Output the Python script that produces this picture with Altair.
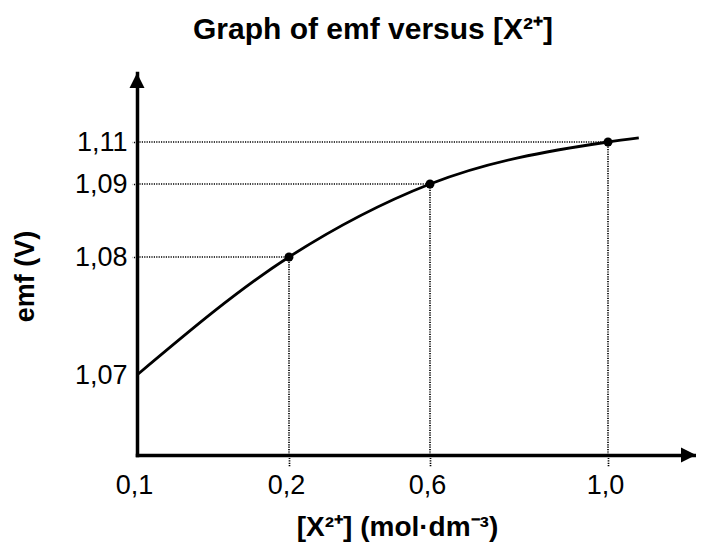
import altair as alt
import pandas as pd

# measured points
conc = [0.2, 0.6, 1.0]
emf = [1.08, 1.09, 1.11]

# curve through the points (starts on the emf axis, runs a little past 1,0)
curve_conc = [0.1, 0.2, 0.6, 1.0, 1.07]
curve_emf = [1.07, 1.08, 1.09, 1.11, 1.1106]

# tick labels
x_ticks = [0.1, 0.2, 0.6, 1.0]
y_ticks = [1.07, 1.08, 1.09, 1.11]

# schematic (non-uniform) axes: knots of the piecewise scales
x_knots = [0.1, 0.2, 0.6, 1.0, 1.2]
y_knots = [1.06, 1.07, 1.08, 1.09, 1.11, 1.12]

W, H = 559, 382
x_range = [0, 152, 293, 471, 559]
y_range = [382, 302, 184, 111, 69, 0]

FONT = "Liberation Sans"
DASH = [1.2, 1.2]
DOT_W = 1.7

xs = alt.Scale(domain=x_knots, range=x_range, zero=False, nice=False)
ys = alt.Scale(domain=y_knots, range=y_range, zero=False, nice=False)

pts = pd.DataFrame({"conc": conc, "emf": emf, "x0": [x_knots[0]] * 3, "y0": [y_knots[0]] * 3})
curve = pd.DataFrame({"conc": curve_conc, "emf": curve_emf})
arrows = pd.DataFrame({
    "conc": [x_knots[0], x_knots[-1]],
    "emf": [y_knots[-1], y_knots[0]],
    "shape": ["M0,0L-0.5,1L0.5,1Z", "M0,0L-1,-0.5L-1,0.5Z"],
})

x_axis = alt.Axis(
    values=x_ticks,
    labelExpr="replace(format(datum.value, '.1f'), '.', ',')",
    grid=False,
    domainColor="black", domainWidth=3.5, domainCap="square",
    tickSize=11, tickDash=DASH, tickWidth=DOT_W, tickColor="black",
    tickOpacity={"condition": {"test": "datum.value < 0.15", "value": 0}, "value": 1},
    labelFont=FONT, labelFontSize=27, labelPadding=6, labelColor="black", labelFlush=False,
    labelOverlap=False, labelBound=False, labelOffset=-3,
    title="[X²⁺] (mol·dm⁻³)", titleFont=FONT, titleFontSize=28, titleFontWeight="bold",
    titleColor="black", titleX=260, titleY=80, titleBaseline="alphabetic",
    titleAlign="center",
)
y_axis = alt.Axis(
    values=y_ticks,
    labelExpr="replace(format(datum.value, '.2f'), '.', ',')",
    grid=False,
    domainColor="black", domainWidth=3.5, domainCap="square",
    tickSize=5, tickDash=DASH, tickWidth=DOT_W, tickColor="black",
    tickOpacity={"condition": {"test": "datum.value < 1.075", "value": 0}, "value": 1},
    labelFont=FONT, labelFontSize=27, labelPadding=5, labelColor="black", labelFlush=False,
    labelOverlap=False, labelBound=False,
    title="emf (V)", titleFont=FONT, titleFontSize=27, titleFontWeight="bold", titleColor="black",
    titleAngle=270, titleX=-112, titleY=203, titleBaseline="middle", titleAlign="center",
)

hrules = alt.Chart(pts).mark_rule(strokeDash=DASH, strokeWidth=DOT_W, color="black").encode(
    x=alt.X("x0:Q", scale=xs, axis=x_axis),
    x2="conc:Q",
    y=alt.Y("emf:Q", scale=ys, axis=y_axis),
)
vrules = alt.Chart(pts).mark_rule(strokeDash=DASH, strokeWidth=DOT_W, color="black").encode(
    x=alt.X("conc:Q", scale=xs),
    y=alt.Y("y0:Q", scale=ys),
    y2="emf:Q",
)
line = alt.Chart(curve).mark_line(color="black", strokeWidth=2.8, interpolate="monotone").encode(
    x=alt.X("conc:Q", scale=xs),
    y=alt.Y("emf:Q", scale=ys),
)
dots = alt.Chart(pts).mark_point(filled=True, color="black", size=80, opacity=1, shape="circle").encode(
    x=alt.X("conc:Q", scale=xs),
    y=alt.Y("emf:Q", scale=ys),
)
heads = alt.Chart(arrows).mark_point(filled=True, color="black", size=900, opacity=1).encode(
    x=alt.X("conc:Q", scale=xs),
    y=alt.Y("emf:Q", scale=ys),
    shape=alt.Shape("shape:N", scale=None, legend=None),
)

chart = alt.layer(hrules, vrules, line, dots, heads).properties(
    width=W,
    height=H,
    background="white",
    autosize=alt.AutoSizeParams(type="none"),
    padding={"left": 129, "top": 65, "right": 0, "bottom": 87},
    title=alt.TitleParams(
        "Graph of emf versus [X²⁺]", anchor="start", frame="group", dx=56, dy=21,
        fontSize=30, fontWeight="bold", font=FONT, color="black", offset=25,
        baseline="alphabetic",
    ),
).configure_view(stroke="transparent", strokeWidth=0)

chart.save("out.html", embed_options={"renderer": "svg", "actions": False})
